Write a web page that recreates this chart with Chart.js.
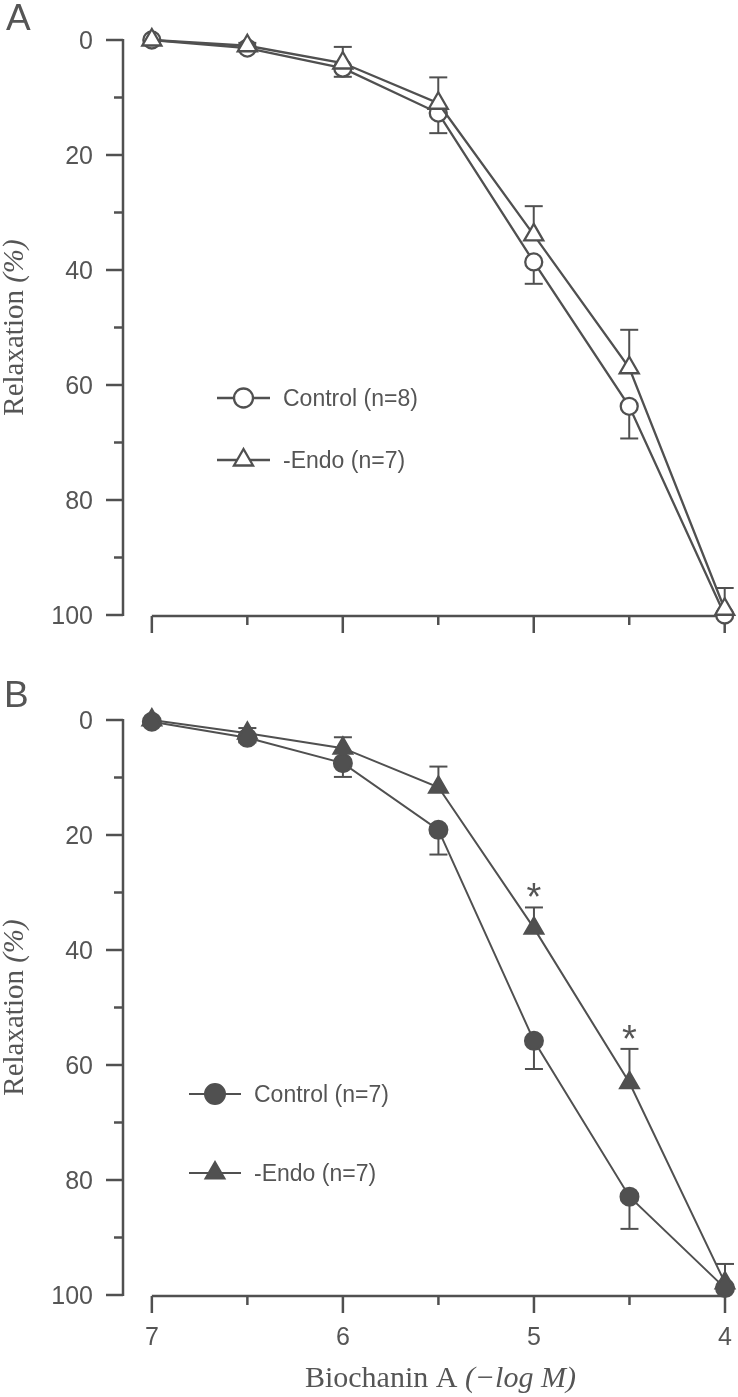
<!DOCTYPE html>
<html>
<head>
<meta charset="utf-8">
<script src="https://cdn.jsdelivr.net/npm/chart.js@4.4.1/dist/chart.umd.min.js"></script>
<style>
  html, body { margin: 0; padding: 0; background: #fff; }
  #wrap { position: relative; width: 738px; height: 1397px; overflow: hidden; }
  canvas { position: absolute; left: 0; }
  #chartA { top: 0; }
  #chartB { top: 640px; }
</style>
</head>
<body>
<div id="wrap">
  <canvas id="chartA" width="738" height="640"></canvas>
  <canvas id="chartB" width="738" height="757"></canvas>
</div>
<script>
// Biochanin A doses (-log M)
const doses = [7, 6.5, 6, 5.5, 5, 4.5, 4];

// Panel A (open symbols)
const ctrlA = [0, 1.4, 4.9, 12.7, 38.6, 63.7, 100];
const ctrlAErr = [0, 0.5, 1.5, 3.5, 3.8, 5.6, 0];
const endoA = [0, 1.0, 4.0, 11.0, 33.9, 57.0, 99.0];
const endoAErr = [0, 0.5, 2.8, 4.5, 5.0, 6.6, 3.7];

// Panel B (filled symbols)
const ctrlB = [0.3, 3.1, 7.5, 19.1, 55.8, 82.9, 98.8];
const ctrlBErr = [0, 0.8, 2.4, 4.3, 4.9, 5.6, 0];
const endoB = [0, 2.3, 4.9, 11.7, 36.2, 63.1, 97.9];
const endoBErr = [0, 0.9, 1.9, 3.6, 3.6, 5.9, 3.3];
const starsB = [false, false, false, false, true, true, false];

// axis ticks
const yMajor = [0, 20, 40, 60, 80, 100];
const yMinor = [10, 30, 50, 70, 90];
const xMajor = [7, 6, 5, 4];
const xMinor = [6.5, 5.5, 4.5];
const xTickLabels = ['7', '6', '5', '4'];

const ink = '#505050';
const txt = '#555555';
const SANS = '"Liberation Sans", Arial, sans-serif';
const SERIF = '"Liberation Serif", "Times New Roman", serif';

const toPoints = (vals) => doses.map((d, i) => ({ x: d, y: vals[i] }));

function marker(ctx, style, x, y, r, fill, lw) {
  ctx.save();
  ctx.fillStyle = fill;
  ctx.strokeStyle = ink;
  ctx.lineWidth = lw;
  ctx.beginPath();
  if (style === 'circle') {
    ctx.arc(x, y, r, 0, Math.PI * 2);
  } else {
    let a = 0;
    ctx.moveTo(x + Math.sin(a) * r, y - Math.cos(a) * r);
    a += 2 * Math.PI / 3;
    ctx.lineTo(x + Math.sin(a) * r, y - Math.cos(a) * r);
    a += 2 * Math.PI / 3;
    ctx.lineTo(x + Math.sin(a) * r, y - Math.cos(a) * r);
    ctx.closePath();
  }
  ctx.fill();
  ctx.stroke();
  ctx.restore();
}

function drawMixed(ctx, parts, cx, cy) {
  let total = 0;
  parts.forEach(p => { ctx.font = p.font; p.w = ctx.measureText(p.text).width; total += p.w; });
  let x = cx - total / 2;
  ctx.textAlign = 'left';
  parts.forEach(p => { ctx.font = p.font; ctx.fillText(p.text, x, cy); x += p.w; });
}

function seg(ctx, x1, y1, x2, y2) {
  ctx.beginPath();
  ctx.moveTo(x1, y1);
  ctx.lineTo(x2, y2);
  ctx.stroke();
}

// axes, error bars, legend and labels
function decorPlugin(cfg) {
  return {
    id: 'decor' + cfg.letter,
    beforeDatasetsDraw(chart) {
      const { ctx, chartArea, scales: { x, y } } = chart;
      ctx.save();
      ctx.strokeStyle = ink;
      ctx.fillStyle = txt;
      ctx.lineWidth = 2.5;

      // y axis
      const ax = chartArea.left;
      seg(ctx, ax, y.getPixelForValue(0) - 1, ax, y.getPixelForValue(100) + 1);
      ctx.font = '25px ' + SANS;
      ctx.textAlign = 'right';
      ctx.textBaseline = 'alphabetic';
      yMajor.forEach(v => {
        const py = y.getPixelForValue(v);
        seg(ctx, ax - 17, py, ax, py);
        ctx.fillText(String(v), ax - 30, py + 9);
      });
      yMinor.forEach(v => {
        const py = y.getPixelForValue(v);
        seg(ctx, ax - 9, py, ax, py);
      });

      // x axis
      const by = y.getPixelForValue(100) + 1;
      seg(ctx, x.getPixelForValue(7), by, x.getPixelForValue(4) + 1, by);
      ctx.textAlign = 'center';
      xMajor.forEach((v, i) => {
        const px = x.getPixelForValue(v);
        seg(ctx, px, by, px, by + 17);
        if (cfg.xLabels) ctx.fillText(xTickLabels[i], px, by + 49);
      });
      xMinor.forEach(v => {
        const px = x.getPixelForValue(v);
        seg(ctx, px, by, px, by + 9);
      });

      // error bars
      ctx.lineWidth = 2;
      chart.data.datasets.forEach(ds => {
        ds.data.forEach((p, i) => {
          const e = ds.errors[i];
          if (!e) return;
          const px = x.getPixelForValue(p.x);
          const p0 = y.getPixelForValue(p.y);
          const p1 = y.getPixelForValue(p.y + ds.errDir * e);
          seg(ctx, px, p0, px, p1);
          seg(ctx, px - 9, p1, px + 9, p1);
        });
      });
      ctx.restore();
    },
    afterDraw(chart) {
      const { ctx, chartArea, scales: { x, y } } = chart;
      ctx.save();
      ctx.fillStyle = txt;
      ctx.strokeStyle = ink;
      ctx.textBaseline = 'alphabetic';

      // panel letter
      ctx.font = '37px ' + SANS;
      ctx.textAlign = 'left';
      ctx.fillText(cfg.letter, cfg.letterPos[0], cfg.letterPos[1]);

      // y title
      ctx.save();
      ctx.translate(23, (y.getPixelForValue(0) + y.getPixelForValue(100)) / 2);
      ctx.rotate(-Math.PI / 2);
      drawMixed(ctx, [
        { text: 'Relaxation ', font: '29px ' + SERIF },
        { text: '(%)', font: 'italic 29px ' + SERIF }
      ], 0, 0);
      ctx.restore();

      // x title
      if (cfg.xTitle) {
        drawMixed(ctx, [
          { text: 'Biochanin A ', font: '30px ' + SERIF },
          { text: '(\u2212log M)', font: 'italic 30px ' + SERIF }
        ], x.getPixelForValue(5.5) + 2, y.getPixelForValue(100) + 92);
      }

      // legend
      cfg.legend.forEach(item => {
        ctx.lineWidth = cfg.lw;
        seg(ctx, cfg.legendX[0], item.y, cfg.legendX[1], item.y);
        marker(ctx, item.style, (cfg.legendX[0] + cfg.legendX[1]) / 2, item.y, item.r, item.fill, cfg.lw);
        ctx.fillStyle = txt;
        ctx.font = '23px ' + SANS;
        ctx.textAlign = 'left';
        ctx.fillText(item.text, cfg.legendX[1] + 13, item.y + 8);
      });

      // significance marks
      if (cfg.stars) {
        const ds = chart.data.datasets[0];
        ctx.font = '38px ' + SANS;
        ctx.textAlign = 'center';
        const m = ctx.measureText('*');
        cfg.stars.forEach((s, i) => {
          if (!s) return;
          const p = ds.data[i];
          const top = y.getPixelForValue(p.y - ds.errors[i]) - 17;
          const off = (m.actualBoundingBoxAscent - m.actualBoundingBoxDescent) / 2;
          ctx.fillText('*', x.getPixelForValue(p.x), top + off);
        });
      }
      ctx.restore();
    }
  };
}

function makeChart(id, endo, endoErr, ctrl, ctrlErr, filled, pad, cfg) {
  const fill = filled ? ink : '#ffffff';
  return new Chart(document.getElementById(id), {
    type: 'line',
    data: {
      datasets: [
        {
          label: '-Endo',
          data: toPoints(endo),
          errors: endoErr,
          errDir: -1,
          borderColor: ink,
          borderWidth: cfg.lw,
          pointStyle: 'triangle',
          pointRadius: 11,
          pointBackgroundColor: fill,
          pointBorderColor: ink,
          pointBorderWidth: cfg.lw,
          tension: 0,
          clip: false
        },
        {
          label: 'Control',
          data: toPoints(ctrl),
          errors: ctrlErr,
          errDir: 1,
          borderColor: ink,
          borderWidth: cfg.lw,
          pointStyle: 'circle',
          pointRadius: filled ? 9 : 8.5,
          pointBackgroundColor: fill,
          pointBorderColor: ink,
          pointBorderWidth: cfg.lw,
          tension: 0,
          clip: false
        }
      ]
    },
    options: {
      responsive: false,
      animation: false,
      devicePixelRatio: 1,
      events: [],
      layout: { padding: pad },
      scales: {
        x: { type: 'linear', min: 4, max: 7.151, reverse: true, display: false },
        y: { type: 'linear', min: 0, max: 100, reverse: true, display: false }
      },
      plugins: { legend: { display: false }, tooltip: { enabled: false } }
    },
    plugins: [decorPlugin(cfg)]
  });
}

makeChart('chartA', endoA, endoAErr, ctrlA, ctrlAErr, false,
  { left: 123, right: 9, top: 40, bottom: 25 },
  {
    letter: 'A', letterPos: [6, 30], lw: 2.3, xLabels: false, xTitle: false,
    legendX: [217, 270],
    legend: [
      { y: 398, style: 'circle', r: 9.5, fill: '#fff', text: 'Control (n=8)' },
      { y: 460, style: 'triangle', r: 11, fill: '#fff', text: '-Endo (n=7)' }
    ]
  });

makeChart('chartB', endoB, endoBErr, ctrlB, ctrlBErr, true,
  { left: 123, right: 9, top: 80, bottom: 102 },
  {
    letter: 'B', letterPos: [4, 67], lw: 2, xLabels: true, xTitle: true,
    legendX: [189, 241],
    legend: [
      { y: 454, style: 'circle', r: 10, fill: ink, text: 'Control (n=7)' },
      { y: 533, style: 'triangle', r: 11, fill: ink, text: '-Endo (n=7)' }
    ],
    stars: starsB
  });
</script>
</body>
</html>
